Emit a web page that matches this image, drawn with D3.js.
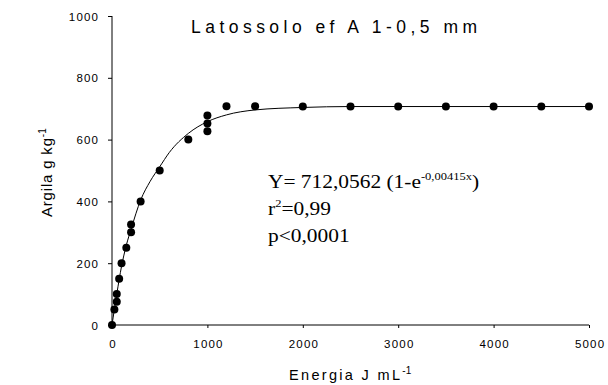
<!DOCTYPE html>
<html>
<head>
<meta charset="utf-8">
<script src="https://cdn.jsdelivr.net/npm/d3@7"></script>
<style>
  html, body { margin: 0; padding: 0; background: #fff; }
  svg { display: block; }
  text { fill: #000; }
</style>
</head>
<body>
<svg id="chart" width="608" height="385"></svg>
<script>
// ---- data ----
const energy = [0, 25, 50, 50, 75, 100, 150, 200, 200, 300, 500, 800, 1000, 1000, 1000, 1200, 1500, 2000, 2500, 3000, 3500, 4000, 4500, 5000];
const clay   = [0, 50, 75, 100, 150, 200, 250, 300, 325, 400, 500, 600, 627, 652, 678, 708, 708, 707, 707, 707, 707, 707, 707, 707];
// fitted curve
const fitX = [0, 50, 100, 150, 200, 300, 400, 500, 600, 800, 1000, 1200, 1500, 2000, 2500, 3000, 5000];
const fitY = [0, 100, 190, 258, 310, 404, 465, 512, 558, 620, 658, 680, 696, 704, 707, 707, 707];
const xTicks = [0, 1000, 2000, 3000, 4000, 5000];
const yTicks = [0, 200, 400, 600, 800, 1000];
const titleText = "Latossolo ef A 1-0,5 mm";
const xLabel = "Energia J mL";
const yLabel = "Argila g kg";
const eqMain = "Y= 712,0562 (1-e";
const eqExp = "-0,00415x";
const r2Text = "=0,99";
const pText = "p<0,0001";

// ---- layout ----
const svg = d3.select("#chart");
const x = d3.scaleLinear().domain([0, 5000]).range([112, 589]);
const y = d3.scaleLinear().domain([0, 1000]).range([325, 16]);
const sans = "Arial, 'Liberation Sans', sans-serif";
const serif = "'Times New Roman', 'Liberation Serif', serif";

// axes
const xAxis = d3.axisBottom(x).tickValues(xTicks).tickSize(3).tickSizeOuter(0).tickPadding(0).tickFormat(d3.format("d"));
const yAxis = d3.axisLeft(y).tickValues(yTicks).tickSize(4).tickSizeOuter(0).tickPadding(0).tickFormat(d3.format("d"));

const gx = svg.append("g").attr("transform", "translate(0,325)").call(xAxis);
const gy = svg.append("g").attr("transform", "translate(112,0)").call(yAxis);
[gx, gy].forEach(g => {
  g.select(".domain").attr("stroke", "#000").attr("stroke-width", 1);
  g.selectAll(".tick line").attr("stroke", "#000");
  g.selectAll(".tick text").attr("font-family", sans).attr("font-size", 11.5)
    .attr("letter-spacing", "1.2px").attr("fill", "#000");
});
gx.selectAll(".tick text").attr("y", 23).attr("dy", 0).attr("dx", "0.6px");
gy.selectAll(".tick text").attr("x", -12.8).attr("dy", "0.36em");
gy.select(".domain").attr("d", `M0,${y(0)}V${y(1000)}`);
gx.select(".domain").attr("d", `M${x(0)},0H${x(5000)}`);

// fitted curve
const pts = fitX.map((v, i) => [v, fitY[i]]);
svg.append("path")
  .datum(pts)
  .attr("fill", "none")
  .attr("stroke", "#000")
  .attr("stroke-width", 1)
  .attr("d", d3.line().x(d => x(d[0])).y(d => y(d[1])).curve(d3.curveMonotoneX));

// points
svg.append("g").selectAll("circle")
  .data(energy.map((v, i) => [v, clay[i]]))
  .join("circle")
  .attr("cx", d => x(d[0]))
  .attr("cy", d => y(d[1]))
  .attr("r", 4)
  .attr("fill", "#000");

// title
svg.append("text")
  .attr("x", 191).attr("y", 33)
  .attr("font-family", sans).attr("font-size", 17.5)
  .attr("textLength", 286).attr("lengthAdjust", "spacing")
  .text(titleText);

// x label
const xl = svg.append("text")
  .attr("x", 289).attr("y", 380)
  .attr("font-family", sans).attr("font-size", 14.5);
xl.append("tspan").attr("textLength", 111).attr("lengthAdjust", "spacing").text(xLabel);
xl.append("tspan").attr("font-size", 10).attr("dx", 0).attr("dy", -6).text("-1");

// y label
const yl = svg.append("text")
  .attr("transform", "translate(52,217) rotate(-90)")
  .attr("font-family", sans).attr("font-size", 15);
yl.append("tspan").attr("textLength", 79).attr("lengthAdjust", "spacing").text(yLabel);
yl.append("tspan").attr("font-size", 10).attr("dx", 0).attr("dy", -6).text("-1");

// equation block
const eq = svg.append("g").attr("transform", "translate(268,0) scale(1.19,1)")
  .attr("font-family", serif).attr("font-size", 18);
const l1 = eq.append("text").attr("x", 0).attr("y", 188.5);
l1.append("tspan").text(eqMain);
l1.append("tspan").attr("font-size", 10.5).attr("dy", -8).text(eqExp);
l1.append("tspan").attr("dy", 8).text(")");
const l2 = eq.append("text").attr("x", 0).attr("y", 215.5);
l2.append("tspan").text("r");
l2.append("tspan").attr("font-size", 10.5).attr("dy", -8).text("2");
l2.append("tspan").attr("dy", 8).text(r2Text);
eq.append("text").attr("x", 0).attr("y", 242).text(pText);
</script>
</body>
</html>
